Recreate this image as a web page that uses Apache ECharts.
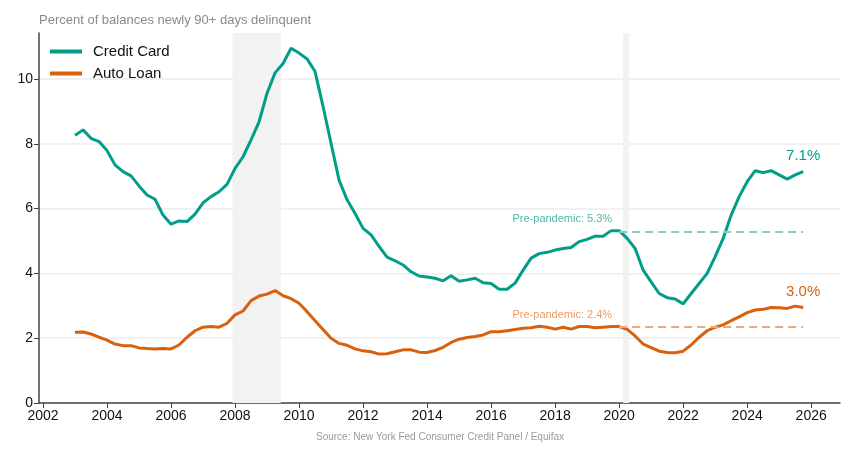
<!DOCTYPE html>
<html>
<head>
<meta charset="utf-8">
<script src="https://cdn.jsdelivr.net/npm/echarts@6/dist/echarts.min.js"></script>
<style>
  html, body { margin: 0; padding: 0; background: #fff; }
  #main { width: 842px; height: 450px; }
</style>
</head>
<body>
<div id="main"></div>
<script>
// quarterly, 2003Q1 .. 2025Q4
var firstYear = 2003;
var creditCard = [
  8.26, 8.43, 8.17, 8.07,
  7.79, 7.35, 7.14, 7.01,
  6.70, 6.42, 6.29, 5.80,
  5.52, 5.62, 5.60, 5.83,
  6.18, 6.37, 6.52, 6.75,
  7.24, 7.60, 8.12, 8.68,
  9.56, 10.19, 10.48, 10.95,
  10.80, 10.62, 10.23, 9.15,
  8.01, 6.88, 6.27, 5.85,
  5.39, 5.19, 4.83, 4.50,
  4.39, 4.26, 4.05, 3.92,
  3.89, 3.85, 3.77, 3.93,
  3.76, 3.80, 3.85, 3.71,
  3.69, 3.51, 3.51, 3.70,
  4.10, 4.47, 4.61, 4.65,
  4.72, 4.77, 4.80, 4.98,
  5.05, 5.15, 5.15, 5.32,
  5.32, 5.08, 4.77, 4.10,
  3.74, 3.38, 3.25, 3.21,
  3.06, 3.38, 3.69, 4.00,
  4.52, 5.08, 5.80, 6.37,
  6.83, 7.17, 7.11, 7.17,
  7.04, 6.91, 7.04, 7.14
];
var autoLoan = [
  2.18, 2.19, 2.13, 2.03,
  1.94, 1.82, 1.77, 1.77,
  1.70, 1.68, 1.67, 1.68,
  1.67, 1.79, 2.03, 2.23,
  2.34, 2.36, 2.34, 2.46,
  2.72, 2.84, 3.16, 3.30,
  3.36, 3.47, 3.31, 3.22,
  3.08, 2.82, 2.54, 2.27,
  2.00, 1.84, 1.78, 1.67,
  1.61, 1.58, 1.51, 1.52,
  1.58, 1.64, 1.64, 1.57,
  1.56, 1.62, 1.72, 1.87,
  1.97, 2.02, 2.05, 2.10,
  2.20, 2.20, 2.23, 2.27,
  2.31, 2.32, 2.37, 2.34,
  2.28, 2.34, 2.28, 2.36,
  2.36, 2.32, 2.34, 2.36,
  2.36, 2.27, 2.07, 1.82,
  1.71, 1.60, 1.56, 1.55,
  1.60, 1.79, 2.03, 2.23,
  2.34, 2.41, 2.54, 2.66,
  2.79, 2.87, 2.89, 2.95,
  2.94, 2.92, 2.99, 2.95
];
var xTicks = [2002, 2004, 2006, 2008, 2010, 2012, 2014, 2016, 2018, 2020, 2022, 2024, 2026];
var yTicks = [0, 2, 4, 6, 8, 10];
var recessions = [[2007.92, 2009.43], [2020.12, 2020.31]];
var prePandemic = { cc: 5.3, auto: 2.35 };
var prePandemicLabels = { cc: 'Pre-pandemic: 5.3%', auto: 'Pre-pandemic: 2.4%' };
var lastLabels = { cc: '7.1%', auto: '3.0%' };
var prePandemicStart = 2020.0;

var ccColor = '#009e89';
var autoColor = '#d9600c';

function toPairs(vals) {
  return vals.map(function (v, i) { return [firstYear + i * 0.25, v]; });
}
var ccData = toPairs(creditCard);
var autoData = toPairs(autoLoan);
var lastX = ccData[ccData.length - 1][0];

var chart = echarts.init(document.getElementById('main'));

var font = 'Liberation Sans, Arial, sans-serif';

var option = {
  backgroundColor: '#fff',
  animation: false,
  textStyle: { fontFamily: font },
  title: {
    text: 'Percent of balances newly 90+ days delinquent',
    left: 34, top: 9,
    textStyle: { fontSize: 13, fontWeight: 'normal', color: '#8a8a8a' }
  },
  legend: {
    left: 45, top: 39,
    orient: 'vertical',
    itemWidth: 32, itemHeight: 4, itemGap: 7,
    icon: 'rect',
    textStyle: { fontSize: 15, color: '#111', padding: [0, 0, 0, 6] },
    data: ['Credit Card', 'Auto Loan']
  },
  grid: { left: 39, right: 2, top: 33, bottom: 47, containLabel: false },
  xAxis: {
    type: 'value',
    min: 2001.875, max: 2026.9,
    axisLine: { show: true, onZero: false, lineStyle: { color: '#444', width: 1.5 } },
    axisTick: { show: true, length: 5, customValues: xTicks, lineStyle: { color: '#444' } },
    axisLabel: { customValues: xTicks, fontSize: 14, color: '#111', margin: 6, formatter: function (v) { return String(v); } },
    splitLine: { show: false }
  },
  yAxis: {
    type: 'value',
    min: 0, max: 11.42,
    axisLine: { show: true, lineStyle: { color: '#444', width: 1.5 } },
    axisTick: { show: true, length: 5, customValues: yTicks, lineStyle: { color: '#444' } },
    axisLabel: { customValues: yTicks, fontSize: 14, color: '#111', margin: 6 },
    splitLine: { show: true, lineStyle: { color: '#ececec', width: 1.5 } }
  },
  graphic: [{
    type: 'text',
    x: 440, y: 432,
    style: {
      text: 'Source: New York Fed Consumer Credit Panel / Equifax',
      fill: '#9a9a9a', fontSize: 10, fontFamily: 'Liberation Sans Narrow, Liberation Sans, sans-serif',
      align: 'center'
    }
  }],
  series: [
    {
      name: 'Credit Card',
      type: 'line',
      data: ccData,
      showSymbol: false,
      color: ccColor,
      lineStyle: { width: 3, color: ccColor },
      z: 3,
      markArea: {
        silent: true,
        itemStyle: { color: '#f2f2f2' },
        data: recessions.map(function (r) { return [{ xAxis: r[0] }, { xAxis: r[1] }]; })
      },
      markLine: {
        silent: true,
        symbol: 'none',
        lineStyle: { type: [8, 5], color: '#7fcfc4', width: 2 },
        label: {
          show: true, position: 'start', distance: 7, offset: [0, -12],
          formatter: prePandemicLabels.cc, color: '#4fb8a9', fontSize: 11
        },
        data: [[{ coord: [prePandemicStart, prePandemic.cc] }, { coord: [lastX, prePandemic.cc] }]]
      },
      markPoint: {
        symbol: 'circle', symbolSize: 0,
        label: { show: true, position: 'top', distance: 8, color: ccColor, fontSize: 15, formatter: lastLabels.cc },
        data: [{ coord: ccData[ccData.length - 1] }]
      }
    },
    {
      name: 'Auto Loan',
      type: 'line',
      data: autoData,
      showSymbol: false,
      color: autoColor,
      lineStyle: { width: 3, color: autoColor },
      z: 3,
      markLine: {
        silent: true,
        symbol: 'none',
        lineStyle: { type: [8, 5], color: '#f2a777', width: 2 },
        label: {
          show: true, position: 'start', distance: 7, offset: [0, -12],
          formatter: prePandemicLabels.auto, color: '#ec9a66', fontSize: 11
        },
        data: [[{ coord: [prePandemicStart, prePandemic.auto] }, { coord: [lastX, prePandemic.auto] }]]
      },
      markPoint: {
        symbol: 'circle', symbolSize: 0,
        label: { show: true, position: 'top', distance: 8, color: autoColor, fontSize: 15, formatter: lastLabels.auto },
        data: [{ coord: autoData[autoData.length - 1] }]
      }
    }
  ]
};

chart.setOption(option);
</script>
</body>
</html>
